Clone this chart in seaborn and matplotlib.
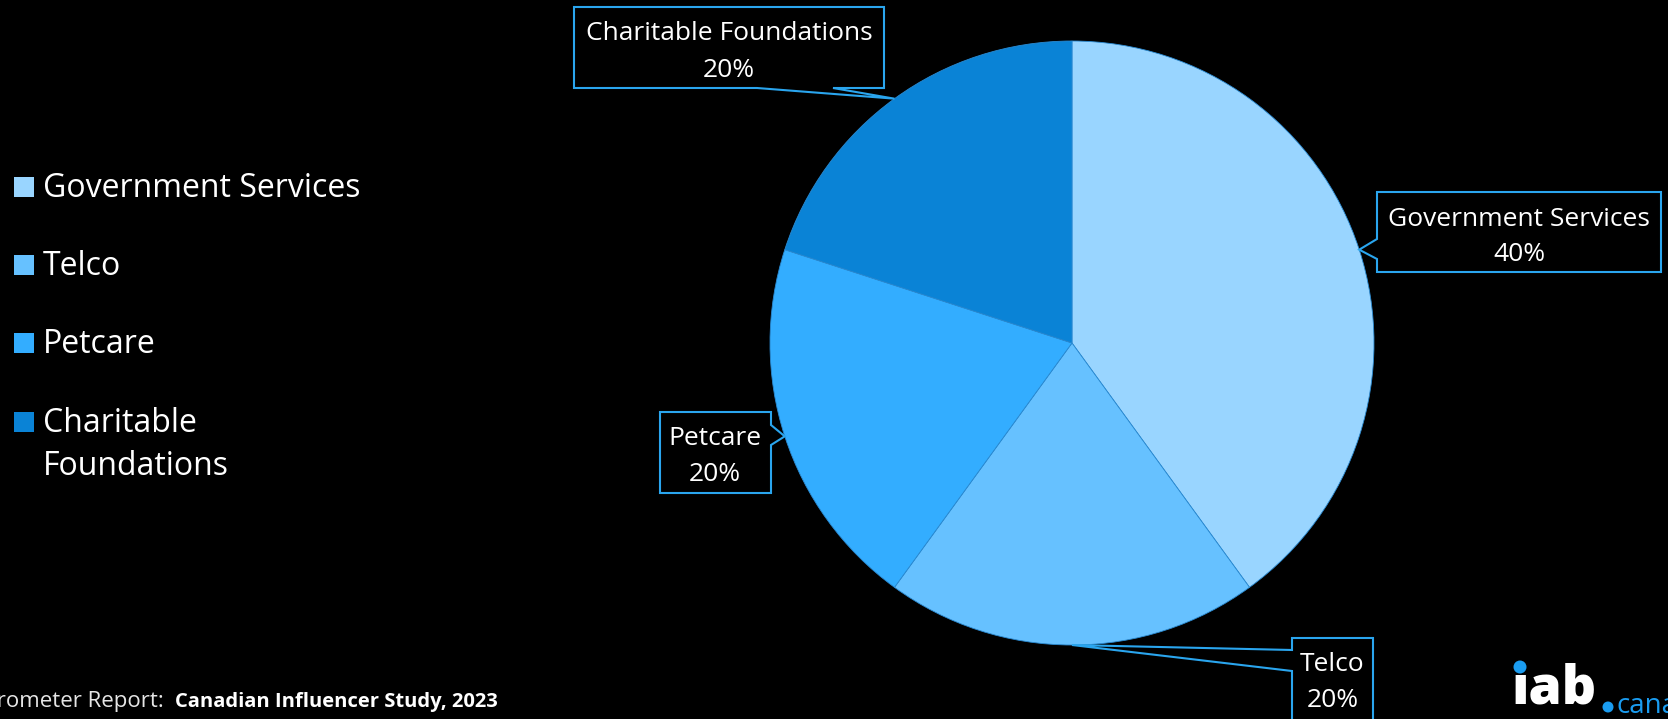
import textwrap

import numpy as np
import matplotlib
matplotlib.use("Agg")
import matplotlib.pyplot as plt
from matplotlib.patches import Polygon, Rectangle, Circle
from matplotlib.transforms import IdentityTransform
import seaborn as sns

# Share of campaigns by advertiser category
categories = ["Government Services", "Telco", "Petcare", "Charitable Foundations"]
shares = [40, 20, 20, 20]
palette = ["#99d5ff", "#66c1ff", "#33adff", "#0a83d6"]

source_label = "Barometer Report:"
source_title = "Canadian Influencer Study, 2023"

W, H = 1668, 719
DPI = 100

sns.set_theme(style="dark", rc={
    "figure.facecolor": "black",
    "axes.facecolor": "black",
    "savefig.facecolor": "black",
    "text.color": "white",
})
FONT = ["Open Sans", "DejaVu Sans"]
plt.rcParams["font.family"] = FONT

fig = plt.figure(figsize=(W / DPI, H / DPI), dpi=DPI)


def fx(x):
    return x / W


def fy(y):
    return 1 - y / H


# pie area: centre (1072, 343), radius 302 px
cx, cy, R = 1072, 343, 302
ax = fig.add_axes([fx(cx - R), fy(cy + R), 2 * R / W, 2 * R / H])
ax.set_facecolor("black")
colors = sns.color_palette(palette)
wedges, _ = ax.pie(
    shares,
    colors=colors,
    startangle=90,
    counterclock=False,
    radius=1,
    wedgeprops=dict(edgecolor="#2a8ad2", linewidth=0.6),
)
ax.set_xlim(-1, 1)
ax.set_ylim(-1, 1)
ax.set_axis_off()


def wedge_tip(w):
    """Midpoint of a wedge's outer arc, in top-left-origin pixel coords."""
    mid = np.deg2rad((w.theta1 + w.theta2) / 2)
    px, py = ax.transData.transform((w.r * np.cos(mid), w.r * np.sin(mid)))
    return px, H - py


def callout(box, side, a, b, tip):
    x0, y0, x1, y1 = box
    pts = [(x0, y0)]
    if side == "top":
        pts += [(a, y0), tip, (b, y0)]
    pts.append((x1, y0))
    if side == "right":
        pts += [(x1, a), tip, (x1, b)]
    pts.append((x1, y1))
    if side == "bottom":
        pts += [(b, y1), tip, (a, y1)]
    pts.append((x0, y1))
    if side == "left":
        pts += [(x0, b), tip, (x0, a)]
    poly = Polygon([(fx(x), fy(y)) for x, y in pts], closed=True,
                   transform=fig.transFigure, facecolor="black",
                   edgecolor="#2aa5ee", linewidth=1.5, zorder=2)
    fig.patches.append(poly)


# label boxes: (box, pointer side, pointer base a, b, text centre x, baselines)
layout = {
    "Government Services": ((1377, 192, 1661, 272), "left", 239, 259, 1519, (226, 261)),
    "Telco": ((1292, 638, 1373, 722), "left", 650, 671, 1332.5, (671, 707)),
    "Petcare": ((660, 412, 771, 493), "right", 425, 445, 715, (445, 481)),
    "Charitable Foundations": ((574, 7, 884, 88), "bottom", 757, 833, 729, (40, 77)),
}

for cat, share, w in zip(categories, shares, wedges):
    box, side, a, b, tx, (b1, b2) = layout[cat]
    callout(box, side, a, b, wedge_tip(w))
    fig.text(fx(tx), fy(b1), cat, ha="center", va="baseline",
             fontsize=19, color="white", zorder=3)
    fig.text(fx(tx), fy(b2), f"{share}%", ha="center", va="baseline",
             fontsize=19, color="white", zorder=3)

# legend on the left
legend_baselines = [197, 275, 353, 432]
for cat, col, base in zip(categories, palette, legend_baselines):
    fig.patches.append(Rectangle((fx(14), fy(base)), 20 / W, 20 / H,
                                 transform=fig.transFigure, facecolor=col,
                                 edgecolor="none", zorder=2))
    for i, line in enumerate(textwrap.wrap(cat, 20)):
        fig.text(fx(43), fy(base + i * 43), line, ha="left", va="baseline",
                 fontsize=23, color="white")

# source line
fig.text(fx(164), fy(707), source_label, ha="right", va="baseline",
         fontsize=16, color="#e6e6e6")
fig.text(fx(175), fy(707), source_title, ha="left", va="baseline",
         fontsize=14.5, color="white", fontweight="bold")

# iab.canada mark
logo_blue = "#1a9cf0"
fig.text(fx(1511), fy(703), "\u0131ab", ha="left", va="baseline",
         fontsize=38.5, color="white", fontweight="heavy", zorder=3)
for (x, y, r) in [(1520, 667, 6.5), (1608, 707, 5.5)]:
    fig.patches.append(Circle((x, H - y), r, transform=IdentityTransform(),
                              facecolor=logo_blue, edgecolor="none", zorder=5))
fig.text(fx(1616), fy(713), "canada", ha="left", va="baseline",
         fontsize=20, color=logo_blue)

fig.savefig("out.png", dpi=DPI, facecolor="black")
